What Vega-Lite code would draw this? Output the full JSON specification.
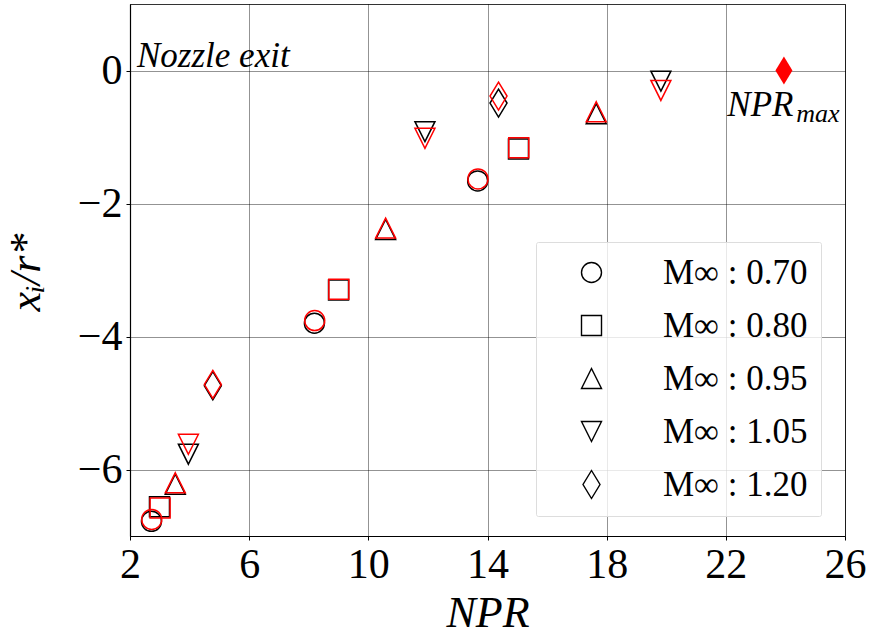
{
  "$schema": "https://vega.github.io/schema/vega-lite/v6.json",
  "autosize": {"type": "none"},
  "width": 715,
  "height": 532,
  "padding": {"left": 130, "top": 4, "right": 25, "bottom": 105},
  "background": "white",
  "config": {
    "view": {"stroke": "#333333", "strokeWidth": 1},
    "font": "Liberation Serif"
  },
  "datasets": {
    "pts": [
      {"NPR": 2.72, "y": -6.78, "M": "0.70", "src": "black"},
      {"NPR": 8.19, "y": -3.8, "M": "0.70", "src": "black"},
      {"NPR": 13.67, "y": -1.66, "M": "0.70", "src": "black"},
      {"NPR": 2.99, "y": -6.56, "M": "0.80", "src": "black"},
      {"NPR": 9.0, "y": -3.3, "M": "0.80", "src": "black"},
      {"NPR": 15.04, "y": -1.18, "M": "0.80", "src": "black"},
      {"NPR": 3.52, "y": -6.22, "M": "0.95", "src": "black"},
      {"NPR": 10.58, "y": -2.39, "M": "0.95", "src": "black"},
      {"NPR": 17.65, "y": -0.65, "M": "0.95", "src": "black"},
      {"NPR": 3.96, "y": -5.77, "M": "1.05", "src": "black"},
      {"NPR": 11.9, "y": -0.92, "M": "1.05", "src": "black"},
      {"NPR": 19.82, "y": -0.16, "M": "1.05", "src": "black"},
      {"NPR": 4.78, "y": -4.74, "M": "1.20", "src": "black"},
      {"NPR": 14.37, "y": -0.49, "M": "1.20", "src": "black"},
      {"NPR": 2.73, "y": -6.75, "M": "0.70", "src": "red"},
      {"NPR": 8.2, "y": -3.76, "M": "0.70", "src": "red"},
      {"NPR": 13.68, "y": -1.63, "M": "0.70", "src": "red"},
      {"NPR": 3.01, "y": -6.58, "M": "0.80", "src": "red"},
      {"NPR": 9.01, "y": -3.29, "M": "0.80", "src": "red"},
      {"NPR": 15.05, "y": -1.16, "M": "0.80", "src": "red"},
      {"NPR": 3.52, "y": -6.2, "M": "0.95", "src": "red"},
      {"NPR": 10.58, "y": -2.37, "M": "0.95", "src": "red"},
      {"NPR": 17.65, "y": -0.62, "M": "0.95", "src": "red"},
      {"NPR": 3.96, "y": -5.62, "M": "1.05", "src": "red"},
      {"NPR": 11.9, "y": -1.02, "M": "1.05", "src": "red"},
      {"NPR": 19.82, "y": -0.3, "M": "1.05", "src": "red"},
      {"NPR": 4.78, "y": -4.72, "M": "1.20", "src": "red"},
      {"NPR": 14.37, "y": -0.385, "M": "1.20", "src": "red"}
    ],
    "maxpt": [{"NPR": 23.95, "y": 0}],
    "notes": [
      {"NPR": 2.235, "y": 0.06, "label": "Nozzle exit", "fs": "big"},
      {"NPR": 22.05, "y": -0.69, "label": "NPR", "fs": "big"},
      {"NPR": 24.36, "y": -0.775, "label": "max", "fs": "small"}
    ]
  },
  "layer": [
    {
      "data": {"name": "pts"},
      "mark": {"type": "point", "filled": false, "strokeWidth": 1.5, "opacity": 1, "size": 400},
      "encoding": {
        "x": {
          "field": "NPR", "type": "quantitative",
          "scale": {"domain": [2, 26], "nice": false, "zero": false},
          "axis": {
            "values": [2, 6, 10, 14, 18, 22, 26], "format": "d", "title": "NPR",
            "labelFont": "Liberation Serif", "labelFontSize": 42, "labelColor": "black", "labelPadding": 4, "labelFlush": false,
            "titleFont": "Liberation Serif", "titleFontStyle": "italic", "titleFontWeight": "normal", "titleFontSize": 44, "titleColor": "black",
            "titleBaseline": "alphabetic", "titleY": 90,
            "domainColor": "black", "domainWidth": 1.2, "tickColor": "black", "tickSize": 4,
            "gridColor": "#000000", "gridOpacity": 0.85, "gridDash": [1, 1], "gridWidth": 1
          }
        },
        "y": {
          "field": "y", "type": "quantitative",
          "scale": {"domain": [-7, 1], "nice": false, "zero": false},
          "axis": {
            "values": [-6, -4, -2, 0], "format": "d", "title": "xᵢ/r*",
            "labelFont": "Liberation Serif", "labelFontSize": 42, "labelColor": "black", "labelPadding": 4,
            "titleFont": "Liberation Serif", "titleFontStyle": "italic", "titleFontWeight": "normal", "titleFontSize": 44, "titleColor": "black",
            "titleX": -104, "titleY": 268, "titleBaseline": "middle", "titleAngle": -90,
            "domainColor": "black", "domainWidth": 1.2, "tickColor": "black", "tickSize": 4,
            "gridColor": "#000000", "gridOpacity": 0.85, "gridDash": [1, 1], "gridWidth": 1
          }
        },
        "shape": {
          "field": "M", "type": "nominal",
          "scale": {
            "domain": ["0.70", "0.80", "0.95", "1.05", "1.20"],
            "range": ["circle", "square", "M0,-1L1,1L-1,1Z", "M0,1L1,-1L-1,-1Z", "M0,-1.4L0.85,0L0,1.4L-0.85,0Z"]
          },
          "legend": {
            "title": null,
            "orient": "none",
            "legendX": 406,
            "legendY": 238,
            "direction": "vertical",
            "padding": 13,
            "fillColor": "rgba(255,255,255,0.8)",
            "strokeColor": "#dddddd",
            "cornerRadius": 2,
            "symbolSize": 400,
            "symbolStrokeColor": "black",
            "symbolStrokeWidth": 1.4,
            "symbolFillColor": "transparent",
            "symbolOffset": 25,
            "labelOffset": 54,
            "rowPadding": 17,
            "labelFont": "Liberation Serif",
            "labelFontSize": 35,
            "labelColor": "black",
            "labelExpr": "'M∞ : ' + datum.label"
          }
        },
        "stroke": {
          "field": "src", "type": "nominal",
          "scale": {"domain": ["black", "red"], "range": ["#000000", "#ff0000"]},
          "legend": null
        }
      }
    },
    {
      "data": {"name": "maxpt"},
      "mark": {"type": "point", "filled": true, "color": "#ff0000", "opacity": 1, "size": 400, "shape": "M0,-1.4L0.85,0L0,1.4L-0.85,0Z"},
      "encoding": {
        "x": {"field": "NPR", "type": "quantitative"},
        "y": {"field": "y", "type": "quantitative"}
      }
    },
    {
      "data": {"name": "notes"},
      "mark": {"type": "text", "align": "left", "baseline": "alphabetic", "font": "Liberation Serif", "fontStyle": "italic", "color": "black"},
      "encoding": {
        "x": {"field": "NPR", "type": "quantitative"},
        "y": {"field": "y", "type": "quantitative"},
        "text": {"field": "label"},
        "size": {"field": "fs", "type": "nominal", "scale": {"domain": ["big", "small"], "range": [35, 26]}, "legend": null}
      }
    }
  ]
}
